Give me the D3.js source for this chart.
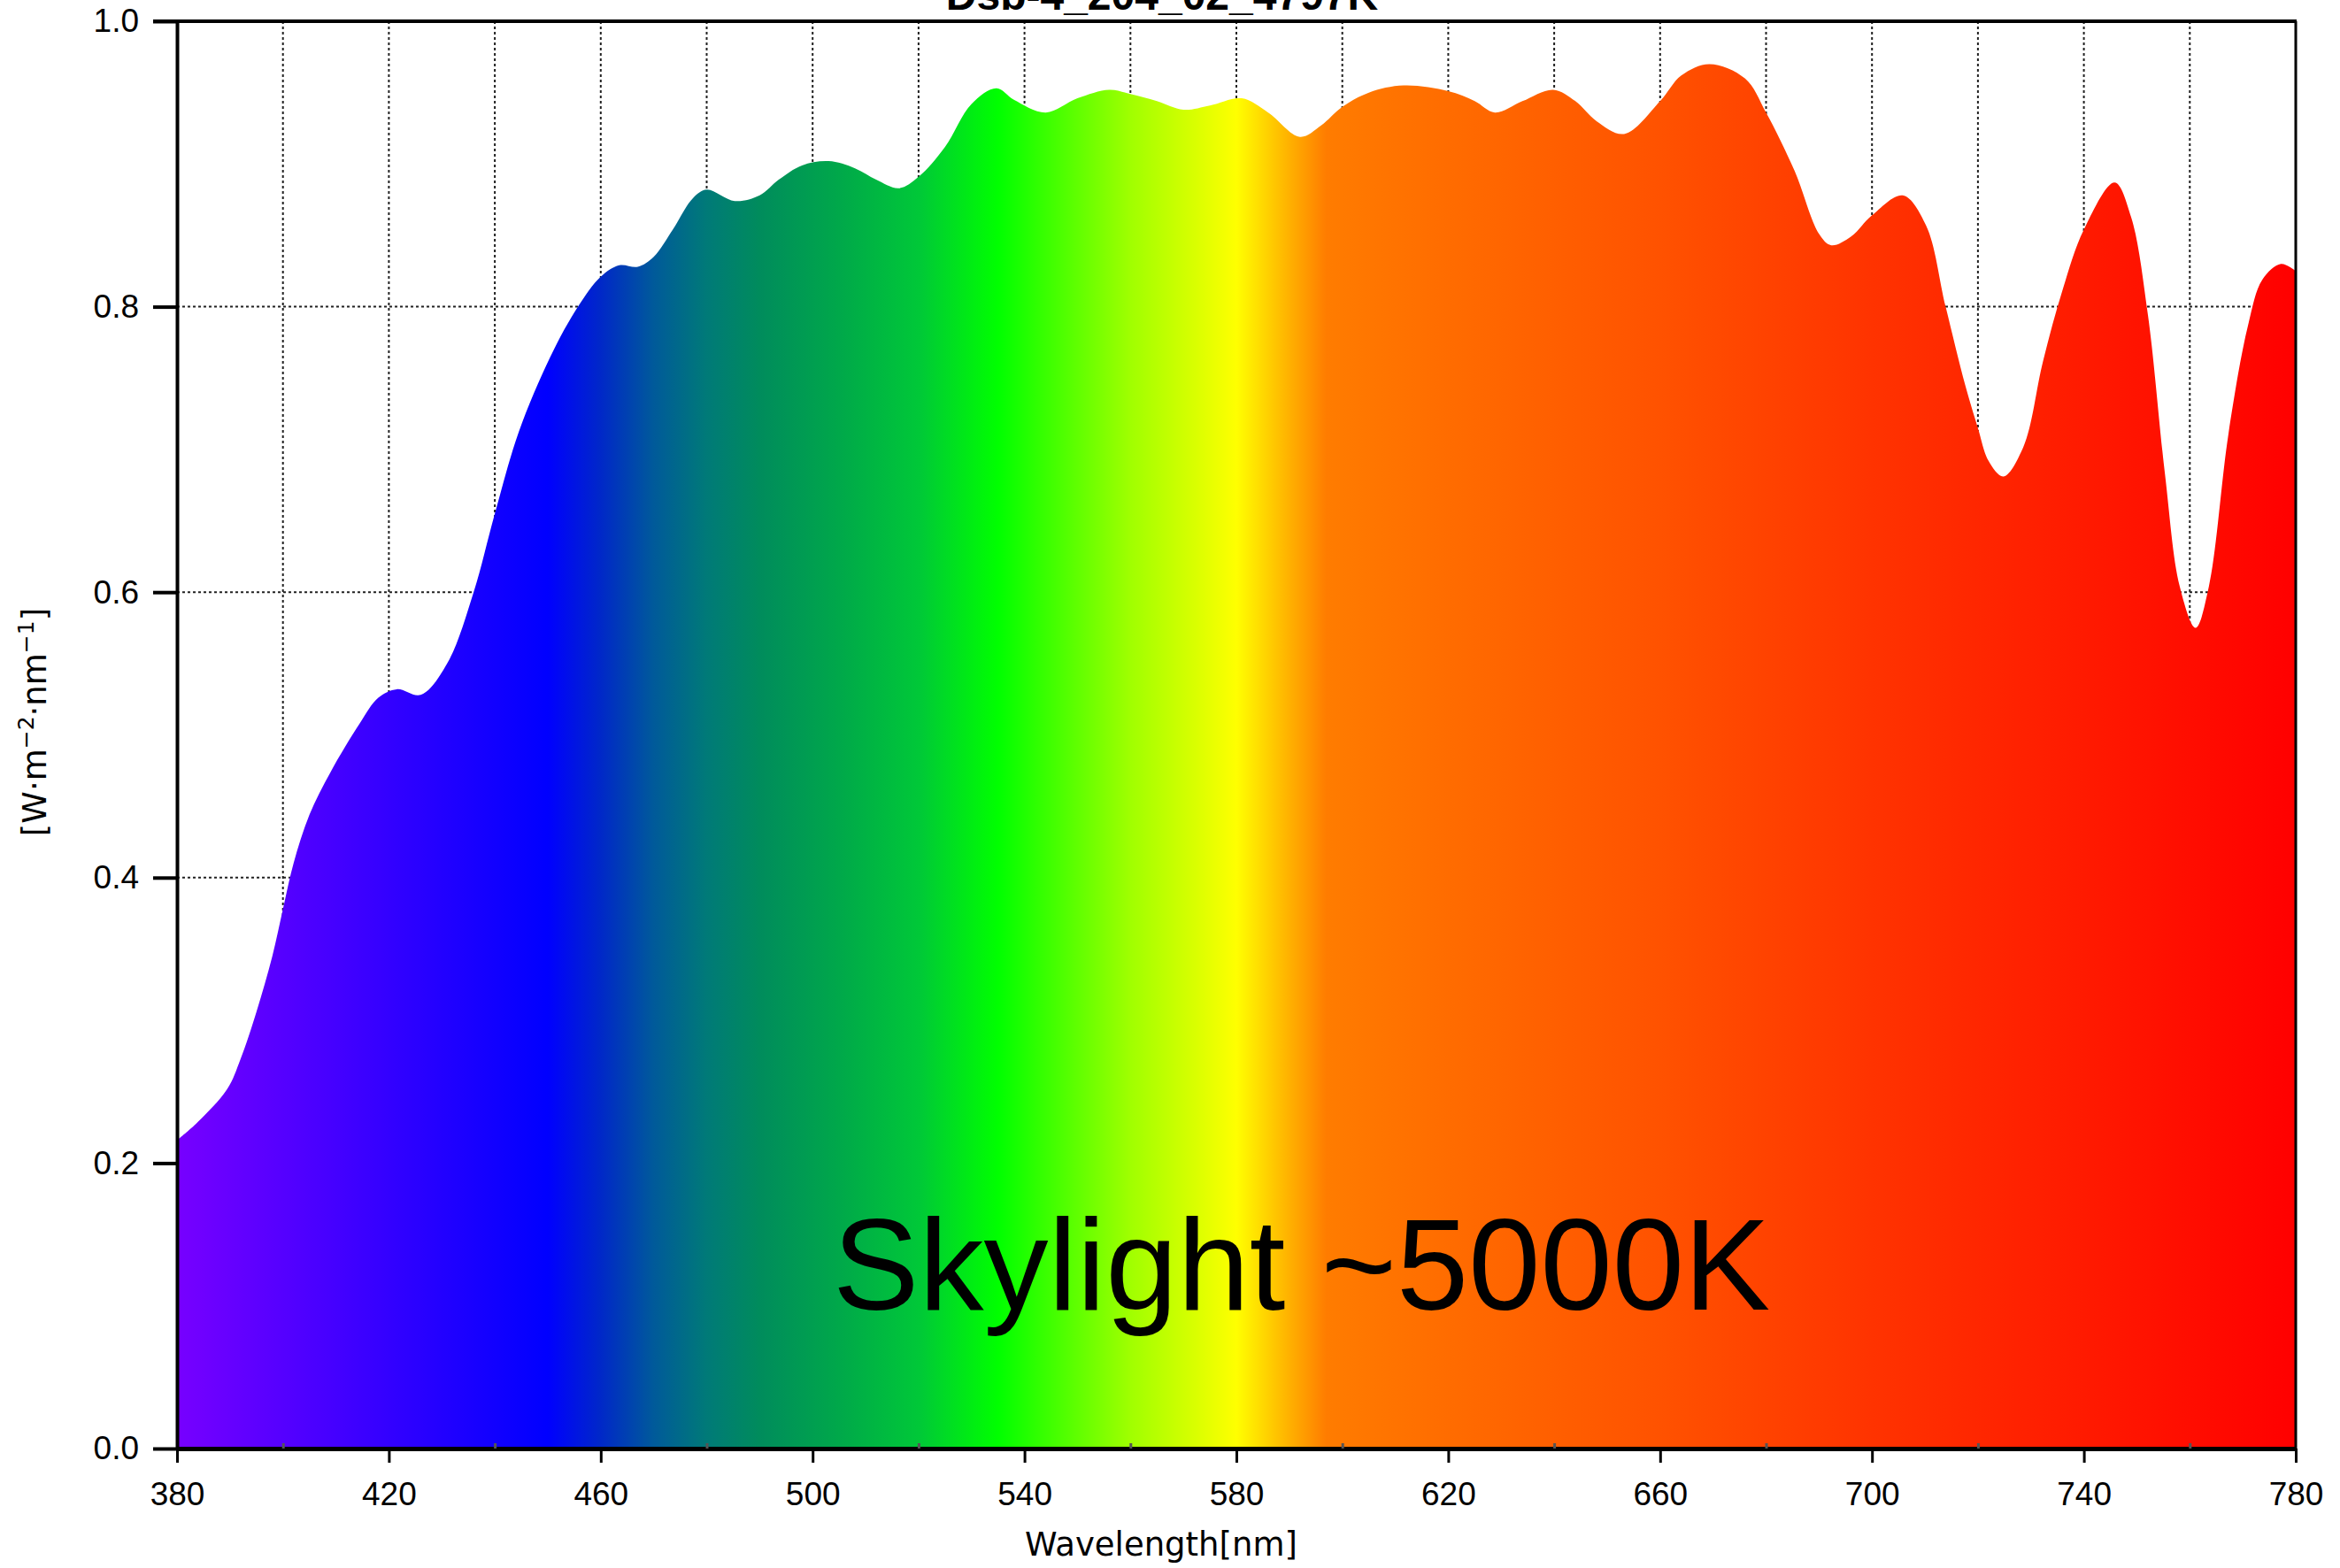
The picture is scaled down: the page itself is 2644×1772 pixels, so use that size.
<!DOCTYPE html>
<html>
<head>
	<meta charset="UTF-8">
	<title>Skylight spectrum</title>
	<script src="https://cdn.jsdelivr.net/npm/d3@7"></script>
	<style>
		body { margin: 0; background: #fff; }
		svg { display: block; }
	</style>
</head>
<body>
	<script type="text/javascript">
		// wavelength samples [nm] and spectral irradiance
		var wavelengths = [380, 384, 389.5, 392, 395, 398, 400, 402, 405, 409, 414.5, 418, 421.5, 426, 431, 436, 440, 444.5,
			450.5, 455.7, 460, 463.5, 467, 470, 473.6, 477.4, 480, 485.3, 490, 493.6, 498, 503, 508, 512, 516.3,
			520, 525, 530, 534.7, 538, 544, 550, 556, 560, 565, 570, 575, 581, 586, 592, 596, 600, 605, 611.6,
			620, 625, 628.8, 634, 639.8, 644, 648, 653.2, 660, 664, 669.3, 676, 680, 685.4, 690, 692.3, 696, 700,
			705.8, 710.2, 713.9, 717.6, 720, 722, 724.8, 728.6, 732.3, 736, 740, 745.8, 748.9, 752.1, 755.3, 758.1,
			761.1, 763.6, 767.3, 771, 773.7, 777.2, 780];
		var irradiance = [0.216, 0.229, 0.252, 0.273, 0.306, 0.345, 0.378, 0.410, 0.444, 0.474, 0.508, 0.526, 0.532, 0.528, 0.550, 0.600, 0.655, 0.712,
			0.765, 0.800, 0.821, 0.829, 0.828, 0.835, 0.854, 0.876, 0.882, 0.874, 0.878, 0.889, 0.899, 0.902, 0.897, 0.889, 0.883,
			0.891, 0.912, 0.942, 0.953, 0.945, 0.936, 0.946, 0.952, 0.949, 0.944, 0.938, 0.941, 0.946, 0.936, 0.919, 0.927, 0.940, 0.950, 0.955,
			0.951, 0.944, 0.936, 0.944, 0.952, 0.944, 0.930, 0.921, 0.944, 0.962, 0.970, 0.960, 0.936, 0.895, 0.851, 0.843, 0.849, 0.864,
			0.878, 0.857, 0.800, 0.745, 0.715, 0.692, 0.681, 0.702, 0.762, 0.812, 0.854, 0.887, 0.863, 0.794, 0.683, 0.604,
			0.575, 0.604, 0.711, 0.787, 0.819, 0.830, 0.825];

		// colour of the fill along the wavelength axis
		var stopNm = [380, 450, 460, 470, 480, 490, 505, 520, 535, 545, 560, 572, 580, 588, 597, 620, 660, 700, 740, 780];
		var stopColors = ["#7700ff", "#0000ff", "#0028c8", "#005a9a", "#007a78", "#008c5c", "#00a84a", "#00c838", "#00ff00",
			"#40ff00", "#a0ff00", "#d8ff00", "#ffff00", "#ffc000", "#ff7c00", "#ff6c00", "#ff5200", "#ff3300", "#ff1a00", "#ff0000"];

		var xTicks = [380, 420, 460, 500, 540, 580, 620, 660, 700, 740, 780];
		var xMinor = [400, 440, 480, 520, 560, 600, 640, 680, 720, 760];
		var yTicks = [0, 0.2, 0.4, 0.6, 0.8, 1.0];

		var W = 2644, H = 1772;
		var pLeft = 200, pRight = 2594, pTop = 24, pBottom = 1637;

		var svg = d3.select("body").append("svg")
			.attr("width", W)
			.attr("height", H);

		var x = d3.scaleLinear().domain([380, 780]).range([pLeft, pRight]);
		var y = d3.scaleLinear().domain([0, 1]).range([pBottom, pTop]);

		var data = wavelengths.map(function (w, i) { return { w: w, v: irradiance[i] }; });

		// gradient
		var grad = svg.append("defs").append("linearGradient")
			.attr("id", "spec")
			.attr("gradientUnits", "userSpaceOnUse")
			.attr("x1", x(380)).attr("x2", x(780))
			.attr("y1", 0).attr("y2", 0);
		grad.selectAll("stop").data(stopNm).enter().append("stop")
			.attr("offset", function (d) { return (d - 380) / 400; })
			.attr("stop-color", function (d, i) { return stopColors[i]; });

		// grid
		var gridX = d3.range(400, 780, 20);
		svg.append("g").selectAll("line").data(gridX).enter().append("line")
			.attr("x1", function (d) { return x(d); })
			.attr("x2", function (d) { return x(d); })
			.attr("y1", pTop).attr("y2", pBottom)
			.attr("stroke", "#222").attr("stroke-width", 2)
			.attr("stroke-dasharray", "3,3");
		svg.append("g").selectAll("line").data([0.2, 0.4, 0.6, 0.8]).enter().append("line")
			.attr("x1", pLeft).attr("x2", pRight)
			.attr("y1", function (d) { return y(d); })
			.attr("y2", function (d) { return y(d); })
			.attr("stroke", "#222").attr("stroke-width", 2)
			.attr("stroke-dasharray", "3,3");

		// spectrum area
		var area = d3.area()
			.x(function (d) { return x(d.w); })
			.y0(y(0))
			.y1(function (d) { return y(d.v); })
			.curve(d3.curveCatmullRom.alpha(0.5));
		svg.append("path")
			.datum(data)
			.attr("d", area)
			.attr("fill", "url(#spec)");

		// axes
		var xAxis = svg.append("g")
			.attr("transform", "translate(0," + pBottom + ")")
			.call(d3.axisBottom(x).tickValues(xTicks).tickSize(16).tickSizeOuter(0).tickFormat(d3.format("d")));
		xAxis.select(".domain").attr("stroke-width", 5);
		xAxis.selectAll(".tick line").attr("stroke-width", 3);
		xAxis.selectAll("text")
			.attr("font-family", "Liberation Sans, Arial, sans-serif")
			.attr("font-size", 37)
			.attr("fill", "#000")
			.attr("dy", 0)
			.attr("y", 64);

		var xMinorAxis = svg.append("g")
			.attr("transform", "translate(0," + pBottom + ")")
			.call(d3.axisBottom(x).tickValues(xMinor).tickSize(-6).tickFormat(""));
		xMinorAxis.select(".domain").remove();
		xMinorAxis.selectAll(".tick line").attr("stroke", "#555").attr("stroke-width", 3);

		var yAxis = svg.append("g")
			.attr("transform", "translate(" + pLeft + ",0)")
			.call(d3.axisLeft(y).tickValues(yTicks).tickSize(27).tickSizeOuter(0).tickFormat(d3.format(".1f")));
		yAxis.select(".domain").attr("stroke-width", 4);
		yAxis.selectAll(".tick line").attr("stroke-width", 4);
		yAxis.selectAll("text")
			.attr("font-family", "Liberation Sans, Arial, sans-serif")
			.attr("font-size", 37)
			.attr("fill", "#000")
			.attr("x", -43);

		// frame top and right
		svg.append("line")
			.attr("x1", pLeft - 27).attr("x2", pRight + 1)
			.attr("y1", pTop).attr("y2", pTop)
			.attr("stroke", "#000").attr("stroke-width", 4);
		svg.append("line")
			.attr("x1", pRight).attr("x2", pRight)
			.attr("y1", pTop).attr("y2", pBottom)
			.attr("stroke", "#000").attr("stroke-width", 3);

		// title (mostly cut off at the top, as in the source image)
		svg.append("text")
			.attr("x", 1313).attr("y", 11)
			.attr("text-anchor", "middle")
			.attr("font-family", "Liberation Sans, Arial, sans-serif")
			.attr("font-weight", "bold")
			.attr("font-size", 48)
			.text("Dsb-4_204_02_4797K");

		// axis titles
		svg.append("text")
			.attr("x", 1312).attr("y", 1758)
			.attr("text-anchor", "middle")
			.attr("font-family", "DejaVu Sans, sans-serif")
			.attr("font-size", 37)
			.text("Wavelength[nm]");

		var yl = svg.append("text")
			.attr("transform", "translate(52,816) rotate(-90)")
			.attr("text-anchor", "middle")
			.attr("font-family", "DejaVu Sans, sans-serif")
			.attr("font-size", 37);
		yl.append("tspan").text("[W\u00b7m");
		yl.append("tspan").attr("font-size", 25).attr("dy", -14).text("\u22122");
		yl.append("tspan").attr("dy", 14).text("\u00b7nm");
		yl.append("tspan").attr("font-size", 25).attr("dy", -14).text("\u22121");
		yl.append("tspan").attr("dy", 14).text("]");

		// big label
		svg.append("text")
			.attr("x", 941).attr("y", 1480)
			.attr("font-family", "Liberation Sans, Arial, sans-serif")
			.attr("font-size", 146)
			.attr("fill", "#000")
			.text("Skylight ~5000K");
	</script>
</body>
</html>
